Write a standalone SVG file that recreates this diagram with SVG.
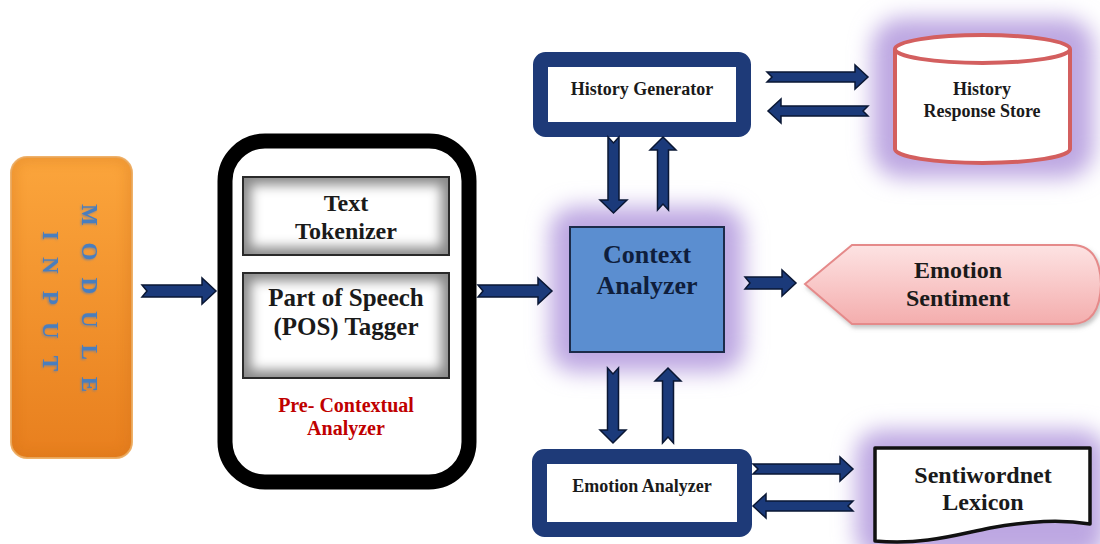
<svg xmlns="http://www.w3.org/2000/svg" width="1100" height="544" viewBox="0 0 1100 544">
<defs>
<linearGradient id="orange" x1="0" y1="0" x2="0" y2="1">
<stop offset="0" stop-color="#FBA53C"/>
<stop offset="1" stop-color="#E87F1E"/>
</linearGradient>
<linearGradient id="pink" x1="0" y1="0" x2="0" y2="1">
<stop offset="0" stop-color="#FDE3E3"/>
<stop offset="1" stop-color="#F4ADAD"/>
</linearGradient>
<filter id="glow" x="-30%" y="-30%" width="160%" height="160%">
<feGaussianBlur stdDeviation="11"/>
</filter>
<filter id="soft" x="-20%" y="-20%" width="140%" height="140%">
<feGaussianBlur stdDeviation="6"/>
</filter>
<filter id="tshadow" x="-20%" y="-20%" width="140%" height="140%">
<feDropShadow dx="1" dy="1" stdDeviation="1.2" flood-color="#6f7f98" flood-opacity="0.8"/>
</filter>
<filter id="dshadow" x="-10%" y="-10%" width="120%" height="130%">
<feDropShadow dx="2" dy="3" stdDeviation="2" flood-color="#888" flood-opacity="0.5"/>
</filter>
<clipPath id="clipTok"><rect x="243" y="177" width="206" height="78"/></clipPath>
<clipPath id="clipPos"><rect x="243" y="273" width="206" height="105"/></clipPath>
<clipPath id="clipMod"><rect x="11" y="157" width="121" height="301" rx="16"/></clipPath>
</defs>
<style>
.arrow { fill: #1B3A7A; stroke: #0A1734; stroke-width: 1.5; stroke-linejoin: miter; }
.navybox { fill: #FFFFFF; stroke: #1E3A78; stroke-width: 15; }
.glowfill { fill: #BDA7E2; }
text { font-family: 'Liberation Serif', 'DejaVu Serif', serif; font-weight: bold; text-anchor: middle; }
.dark { fill: #1A1A1A; }
.innerbox { stroke: #2A2A2A; stroke-width: 2; fill: none; }
.vert { fill: #4A7EBE; font-size: 23px; }
</style>
<rect width="1100" height="544" fill="#FFFFFF"/>

<g id="glows">
<rect class="glowfill" x="872" y="18" width="222" height="160" rx="30" filter="url(#glow)"/>
<rect class="glowfill" x="550" y="207" width="194" height="165" rx="25" filter="url(#glow)"/>
<rect class="glowfill" x="856" y="430" width="250" height="130" rx="25" filter="url(#glow)"/>
</g>

<g id="module-input">
<rect x="11" y="157" width="121" height="301" rx="16" fill="url(#orange)" stroke="#F0B26A" stroke-width="2"/>
<g clip-path="url(#clipMod)">
<rect x="11" y="157" width="121" height="301" rx="16" fill="none" stroke="#C96A12" stroke-width="8" opacity="0.35" filter="url(#soft)"/>
</g>
<text class="vert" filter="url(#tshadow)" transform="translate(82,298) rotate(90)" textLength="188" lengthAdjust="spacing">MODULE</text>
<text class="vert" filter="url(#tshadow)" transform="translate(43,301) rotate(90)" textLength="140" lengthAdjust="spacing">INPUT</text>
</g>

<g id="pre-contextual-analyzer">
<rect x="225" y="141" width="244" height="341" rx="40" fill="#FFFFFF" stroke="#000000" stroke-width="15"/>
<g id="text-tokenizer">
<rect x="243" y="177" width="206" height="78" fill="#8A8A8A"/>
<g clip-path="url(#clipTok)"><rect x="251" y="185" width="190" height="62" fill="#FFFFFF" filter="url(#soft)"/></g>
<rect class="innerbox" x="243" y="177" width="206" height="78"/>
<text class="dark" x="346" y="211" font-size="24">Text</text>
<text class="dark" x="346" y="239" font-size="24">Tokenizer</text>
</g>
<g id="pos-tagger">
<rect x="243" y="273" width="206" height="105" fill="#8A8A8A"/>
<g clip-path="url(#clipPos)"><rect x="251" y="281" width="190" height="89" fill="#FFFFFF" filter="url(#soft)"/></g>
<rect class="innerbox" x="243" y="273" width="206" height="105"/>
<text class="dark" x="346" y="306" font-size="25">Part of Speech</text>
<text class="dark" x="346" y="335" font-size="25">(POS) Tagger</text>
</g>
<text fill="#C00000" x="346" y="412" font-size="20">Pre- Contextual</text>
<text fill="#C00000" x="346" y="435" font-size="20">Analyzer</text>
</g>

<g id="history-generator">
<rect class="navybox" x="540.5" y="59.5" width="203" height="70" rx="5"/>
<text class="dark" x="642" y="95" font-size="18">History Generator</text>
</g>

<g id="history-response-store">
<path d="M895,49 L895,149 A87.5,14 0 0 0 1070,149 L1070,49" fill="#FFFFFF" stroke="#D35F5F" stroke-width="4"/>
<ellipse cx="982.5" cy="49" rx="87.5" ry="14" fill="#FFFFFF" stroke="#D35F5F" stroke-width="4"/>
<text class="dark" x="982" y="95" font-size="18">History</text>
<text class="dark" x="982" y="117" font-size="18">Response Store</text>
</g>

<g id="context-analyzer">
<rect x="570" y="227" width="154" height="125" fill="#5B8ED0" stroke="#1C2B4A" stroke-width="2"/>
<text fill="#0F1E3C" x="647" y="263" font-size="26">Context</text>
<text fill="#0F1E3C" x="647" y="294" font-size="26">Analyzer</text>
</g>

<g id="emotion-sentiment">
<path d="M805,284 L852,245 L1072,245 Q1100,245 1101,284 Q1100,324 1072,324 L852,324 Z" fill="url(#pink)" stroke="#E58A8A" stroke-width="2" filter="url(#dshadow)"/>
<text class="dark" x="958" y="278" font-size="24">Emotion</text>
<text class="dark" x="958" y="306" font-size="24">Sentiment</text>
</g>

<g id="emotion-analyzer">
<rect class="navybox" x="539.5" y="456.5" width="205" height="73" rx="5"/>
<text class="dark" x="642" y="492" font-size="18">Emotion Analyzer</text>
</g>

<g id="sentiwordnet-lexicon">
<path d="M875,448 L1090,448 L1090,524 C1060,519 1030,521 990,528 C955,535 925,545 875,541 Z" fill="#FFFFFF" stroke="#111111" stroke-width="3.5" stroke-linejoin="round"/>
<text class="dark" x="983" y="483" font-size="24">Sentiwordnet</text>
<text class="dark" x="983" y="510" font-size="24">Lexicon</text>
</g>

<g id="connectors">
<path class="arrow" d="M142,285 L202,285 L202,278 L216,291 L202,304 L202,297 L142,297 L147,291 Z"/>
<path class="arrow" d="M478,285 L538,285 L538,278 L552,291 L538,304 L538,297 L478,297 L483,291 Z"/>
<path class="arrow" d="M745,277 L782,277 L782,270 L796,283 L782,296 L782,289 L745,289 L750,283 Z"/>
<path class="arrow" d="M767,72 L855,72 L855,65 L868,77 L855,89 L855,82 L767,82 L772,77 Z"/>
<path class="arrow" d="M868,106 L781,106 L781,99 L768,111 L781,123 L781,116 L868,116 L863,111 Z"/>
<path class="arrow" d="M608,137 L608,200 L600,200 L613.5,213 L627,200 L619,200 L619,137 L613.5,143 Z"/>
<path class="arrow" d="M657.5,210 L657.5,150 L650,150 L663,137 L676,150 L668.5,150 L668.5,210 L663,204 Z"/>
<path class="arrow" d="M607.5,368 L607.5,430 L600,430 L613,443 L626,430 L618.5,430 L618.5,368 L613,374 Z"/>
<path class="arrow" d="M662.5,443 L662.5,381 L655,381 L668,368 L681,381 L673.5,381 L673.5,443 L668,437 Z"/>
<path class="arrow" d="M753,464 L840,464 L840,457 L853,469 L840,481 L840,474 L753,474 L758,469 Z"/>
<path class="arrow" d="M853,501 L766,501 L766,494 L753,506 L766,518 L766,511 L853,511 L848,506 Z"/>
</g>
</svg>
